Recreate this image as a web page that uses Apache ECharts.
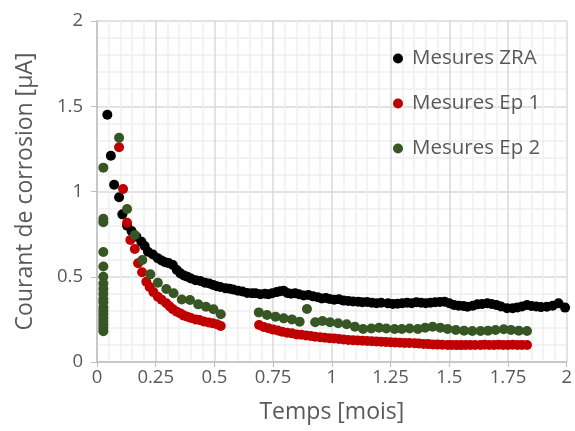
<!DOCTYPE html>
<html><head><meta charset="utf-8">
<script src="https://cdn.jsdelivr.net/npm/echarts@6/dist/echarts.min.js"></script>
<style>html,body{margin:0;padding:0;background:#fff}#c{width:575px;height:431px}</style>
</head><body><div id="c"></div>
<script>
var seriesNames = ["Mesures ZRA", "Mesures Ep 1", "Mesures Ep 2"];
var xAxisTitle = "Temps [mois]";
var yAxisTitle = "Courant de corrosion [µA]";

var zraX = [0.044,0.059,0.073,0.094,0.108,0.128,0.147,0.168,0.189,0.203,0.217,0.238,0.259,0.275,0.29,0.305,0.323,0.34,0.355,0.37,0.385,0.40,0.42,0.44,0.46,0.478,0.495,0.51,0.525,0.548,0.565,0.58,0.6,0.619,0.64,0.66,0.675,0.695,0.715,0.73,0.746,0.765,0.78,0.795,0.81,0.826,0.844,0.86,0.88,0.9,0.92,0.94,0.957,0.975,0.99,1.01,1.03,1.05,1.07,1.09,1.112,1.13,1.15,1.17,1.19,1.21,1.239,1.26,1.28,1.3,1.32,1.34,1.36,1.38,1.4,1.42,1.44,1.46,1.48,1.5,1.52,1.54,1.56,1.577,1.6,1.62,1.64,1.662,1.68,1.7,1.72,1.746,1.77,1.79,1.81,1.831,1.85,1.87,1.89,1.915,1.94,1.965,1.993];
var zraY = [1.45,1.21,1.04,0.966,0.866,0.80,0.768,0.735,0.706,0.68,0.647,0.63,0.608,0.595,0.585,0.58,0.569,0.54,0.52,0.508,0.5,0.49,0.48,0.475,0.465,0.46,0.452,0.445,0.44,0.432,0.43,0.425,0.418,0.413,0.405,0.403,0.403,0.398,0.4,0.397,0.403,0.41,0.415,0.418,0.405,0.4,0.403,0.397,0.39,0.393,0.385,0.38,0.373,0.375,0.37,0.365,0.368,0.36,0.358,0.355,0.354,0.35,0.352,0.348,0.345,0.348,0.344,0.34,0.342,0.345,0.348,0.345,0.35,0.348,0.345,0.348,0.35,0.352,0.354,0.345,0.335,0.33,0.328,0.324,0.33,0.338,0.34,0.344,0.34,0.335,0.325,0.315,0.315,0.32,0.325,0.334,0.328,0.325,0.322,0.324,0.33,0.344,0.319];

var ep1X = [0.094,0.111,0.128,0.142,0.161,0.175,0.192,0.21,0.224,0.24,0.259,0.275,0.295,0.31,0.323,0.34,0.355,0.37,0.385,0.4,0.42,0.436,0.455,0.475,0.492,0.51,0.527,0.69,0.71,0.73,0.75,0.77,0.788,0.81,0.83,0.85,0.87,0.89,0.91,0.929,0.95,0.97,0.99,1.01,1.03,1.05,1.07,1.09,1.11,1.13,1.15,1.17,1.19,1.21,1.23,1.25,1.27,1.29,1.31,1.33,1.352,1.37,1.39,1.41,1.43,1.45,1.47,1.493,1.51,1.53,1.55,1.57,1.59,1.61,1.633,1.65,1.67,1.69,1.71,1.73,1.75,1.77,1.79,1.81,1.831];
var ep1Y = [1.26,1.015,0.817,0.716,0.663,0.579,0.526,0.471,0.44,0.41,0.383,0.365,0.345,0.325,0.31,0.295,0.285,0.272,0.265,0.258,0.25,0.246,0.238,0.232,0.228,0.222,0.211,0.217,0.205,0.198,0.19,0.185,0.178,0.172,0.168,0.162,0.16,0.155,0.152,0.148,0.145,0.142,0.14,0.138,0.135,0.132,0.129,0.128,0.126,0.125,0.123,0.122,0.12,0.119,0.117,0.116,0.115,0.113,0.112,0.111,0.11,0.108,0.106,0.105,0.103,0.102,0.101,0.1,0.1,0.099,0.099,0.1,0.1,0.1,0.1,0.101,0.1,0.1,0.101,0.1,0.1,0.101,0.1,0.1,0.1];

var ep2X = [0.027,0.027,0.027,0.027,0.027,0.027,0.027,0.027,0.027,0.027,0.027,0.027,0.027,0.027,0.027,0.027,0.027,0.027,0.027,0.094,0.128,0.161,0.193,0.227,0.259,0.295,0.326,0.361,0.396,0.431,0.464,0.496,0.527,0.689,0.724,0.76,0.795,0.83,0.863,0.894,0.929,0.96,0.992,1.027,1.063,1.098,1.133,1.168,1.201,1.232,1.267,1.298,1.331,1.366,1.397,1.429,1.462,1.493,1.528,1.563,1.598,1.633,1.665,1.697,1.732,1.763,1.796,1.831];
var ep2Y = [1.14,0.84,0.82,0.645,0.56,0.5,0.46,0.43,0.4,0.37,0.35,0.32,0.3,0.28,0.26,0.24,0.22,0.2,0.18,1.315,0.897,0.745,0.598,0.514,0.465,0.428,0.403,0.367,0.364,0.338,0.324,0.309,0.28,0.291,0.276,0.266,0.256,0.25,0.236,0.311,0.233,0.24,0.233,0.227,0.221,0.207,0.194,0.197,0.201,0.197,0.194,0.194,0.197,0.194,0.201,0.207,0.201,0.194,0.188,0.184,0.182,0.182,0.184,0.188,0.192,0.188,0.184,0.182];

var colors = ["#000000", "#c00000", "#375623"];

function pairs(xs, ys){ return xs.map(function(x,i){ return [x, ys[i]]; }); }

var chart = echarts.init(document.getElementById('c'), null, {renderer:'canvas'});
var font = '"Open Sans", sans-serif';
chart.setOption({
  animation:false,
  backgroundColor:'#ffffff',
  color: colors,
  textStyle:{fontFamily:font},
  grid:{left:97, right:6, top:21, bottom:69, containLabel:false},
  legend:{
    orient:'vertical', left:388, top:43, itemGap:24,
    icon:'circle', itemWidth:10, itemHeight:10,
    textStyle:{fontSize:20.5, color:'#595959', fontFamily:font, padding:[0,0,0,4]},
    data: seriesNames
  },
  xAxis:{
    type:'value', min:0, max:2, interval:0.25,
    name:xAxisTitle, nameLocation:'middle', nameGap:39,
    nameTextStyle:{fontSize:23, color:'#595959', fontFamily:font},
    axisLine:{show:true, onZero:false, lineStyle:{color:'#bfbfbf', width:1.5}},
    axisTick:{show:true, length:5, lineStyle:{color:'#bfbfbf'}},
    axisLabel:{fontSize:18.5, color:'#595959', margin:6, fontFamily:font},
    splitLine:{show:true, lineStyle:{color:'#d9d9d9', width:1.5}},
    minorTick:{show:false, splitNumber:5},
    minorSplitLine:{show:true, lineStyle:{color:'#efefef', width:1.5}}
  },
  yAxis:{
    type:'value', min:0, max:2, interval:0.5,
    name:yAxisTitle, nameLocation:'middle', nameGap:60,
    nameTextStyle:{fontSize:23, color:'#595959', fontFamily:font},
    axisLine:{show:true, lineStyle:{color:'#bfbfbf', width:1.5}},
    axisTick:{show:true, length:6, lineStyle:{color:'#bfbfbf'}},
    axisLabel:{fontSize:18.5, color:'#595959', margin:14, fontFamily:font},
    splitLine:{show:true, lineStyle:{color:'#d9d9d9', width:1.5}},
    minorTick:{show:false, splitNumber:5},
    minorSplitLine:{show:true, lineStyle:{color:'#efefef', width:1.5}}
  },
  series:[
    {name:seriesNames[0], type:'scatter', symbolSize:10, data:pairs(zraX, zraY), itemStyle:{color:colors[0], opacity:1}},
    {name:seriesNames[1], type:'scatter', symbolSize:10, data:pairs(ep1X, ep1Y), itemStyle:{color:colors[1], opacity:1}},
    {name:seriesNames[2], type:'scatter', symbolSize:10, data:pairs(ep2X, ep2Y), itemStyle:{color:colors[2], opacity:1}}
  ]
});
</script>
</body></html>
